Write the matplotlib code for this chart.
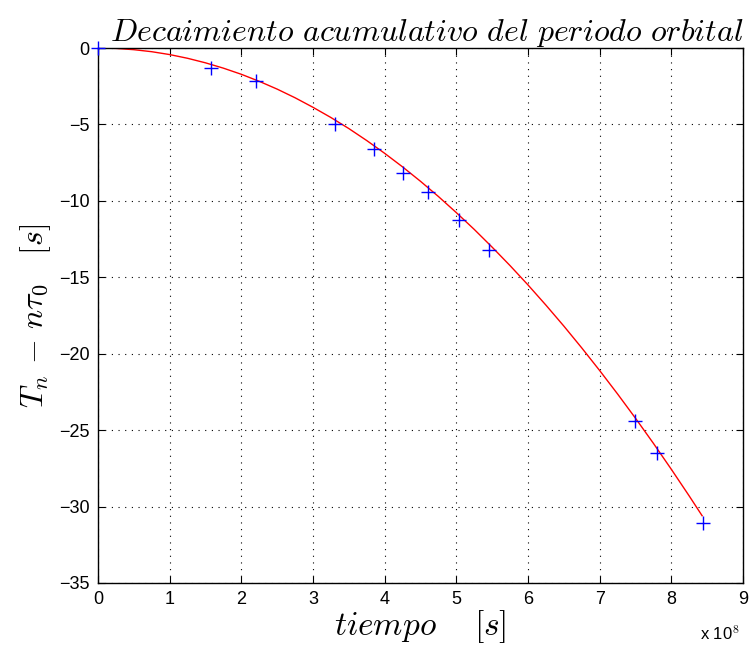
import numpy as np
import matplotlib
matplotlib.use("Agg")
import matplotlib.pyplot as plt

plt.rcParams.update({"font.family": ["Liberation Sans", "DejaVu Sans"], "mathtext.fontset": "cm"})

# datos medidos (tiempo en unidades de 1e8 s)
t_datos = [0.0, 1.58, 2.21, 3.31, 3.85, 4.25, 4.61, 5.04, 5.45, 7.49, 7.80, 8.44]
dT_datos = [0.0, -1.34, -2.19, -4.98, -6.64, -8.18, -9.45, -11.25, -13.22, -24.4, -26.5, -31.1]

# curva de ajuste
t_ajuste = [0.0, 0.25, 0.5, 0.75, 1.0, 1.25, 1.5, 1.75, 2.0, 2.25, 2.5, 2.75, 3.0, 3.25, 3.5,
            3.75, 4.0, 4.25, 4.5, 4.75, 5.0, 5.25, 5.5, 5.75, 6.0, 6.25, 6.5, 6.75, 7.0,
            7.25, 7.5, 7.75, 8.0, 8.25, 8.43]
dT_ajuste = [0.0, -0.027, -0.11, -0.242, -0.43, -0.673, -0.97, -1.319, -1.72, -2.18, -2.69,
             -3.256, -3.88, -4.548, -5.27, -6.055, -6.89, -7.778, -8.72, -9.715, -10.77,
             -11.868, -13.03, -14.237, -15.50, -16.82, -18.19, -19.619, -21.10, -22.633,
             -24.22, -25.863, -27.56, -29.308, -30.60]

x_ticks = [0, 1, 2, 3, 4, 5, 6, 7, 8, 9]
y_ticks = [-35, -30, -25, -20, -15, -10, -5, 0]

fig = plt.figure(figsize=(7.51, 6.54), dpi=100)
ax = fig.add_axes([0.1305, 0.1086, 0.8588, 0.818])

ax.plot(t_ajuste, dT_ajuste, color="red", linewidth=1.0)
ax.plot(t_datos, dT_datos, linestyle="none", marker="+", color="blue", markersize=9.5,
        markeredgewidth=1.0, clip_on=False, zorder=3)

ax.set_xlim(0, 9); ax.set_ylim(-35, 0)
ax.set_xticks(x_ticks); ax.set_yticks(y_ticks)
ax.set_xticklabels([str(v) for v in x_ticks], fontsize=13)
ax.set_yticklabels([str(v).replace("-", "\u2212") for v in y_ticks], fontsize=13)
ax.tick_params(direction="in", length=5, width=0.8, top=True, right=True, labeltop=False, labelright=False, pad=6)
ax.grid(True, color="black", linestyle=(0, (1, 5)), linewidth=0.8)
for s in ax.spines.values():
    s.set_linewidth(1.0)

ax.set_title(r"$Decaimiento\ acumulativo\ del\ periodo\ orbital$", fontsize=23, pad=5, x=0.51)
ax.set_xlabel(r"$tiempo\quad\ [s]$", fontsize=24, labelpad=0)
ax.set_ylabel(r"$T_n\,-\,n\tau_0\quad[s]$", fontsize=23, labelpad=4)
fig.text(0.958, 0.022, r"x 10$^{8}$", fontsize=12, ha="center")

fig.savefig("out.png", dpi=100, facecolor="white")
